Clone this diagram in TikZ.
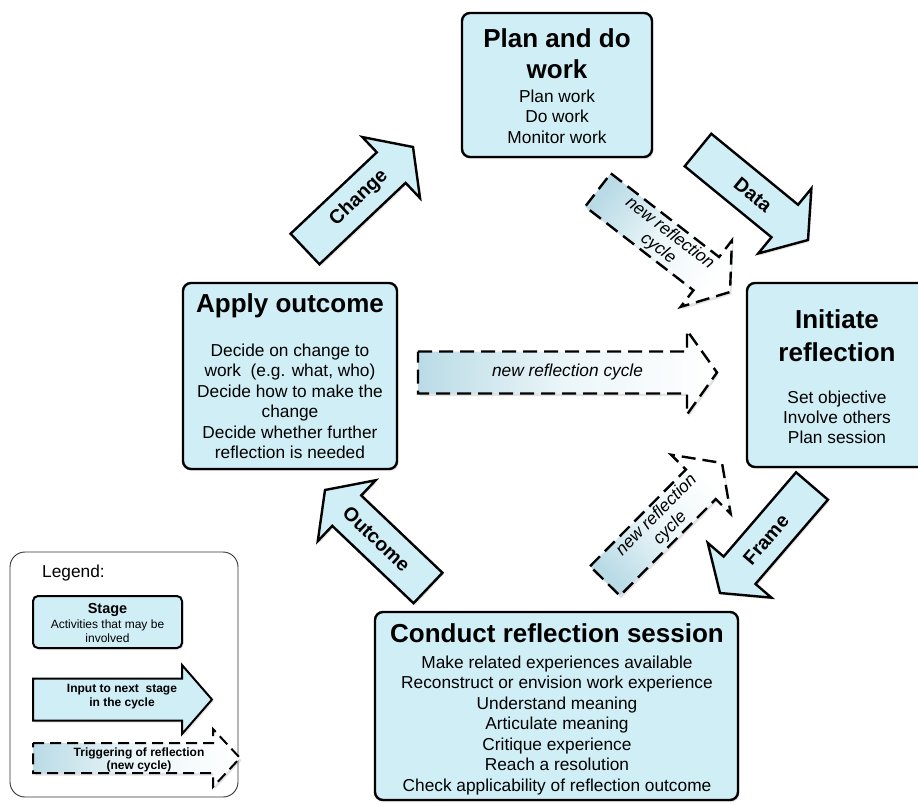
\documentclass[tikz,border=0pt]{standalone}
\usepackage{fontspec}
\setmainfont{Liberation Sans}
\usetikzlibrary{calc,shadows}
\definecolor{boxfill}{RGB}{208,238,246}
\definecolor{gradstart}{RGB}{186,219,230}
\definecolor{gradmid}{RGB}{236,246,249}
\newcommand\blockarrow[6]{%
  \coordinate (ah) at ($(#3)!#6!(#2)$);
  \path[#1] ($(#2)!#4!90:(#3)$) -- ($(ah)!#4!90:(#3)$) -- ($(ah)!#5!90:(#3)$) -- (#3)
     -- ($(ah)!#5!-90:(#3)$) -- ($(ah)!#4!-90:(#3)$) -- ($(#2)!#4!-90:(#3)$) -- cycle;}
\tikzset{
  stagebox/.style={draw=black, line width=2.4pt, fill=boxfill, rounded corners=8pt, inner sep=0pt,
    drop shadow={opacity=0.2, shadow xshift=1.5pt, shadow yshift=-2pt}},
  flowarrow/.style={draw=black, line width=2.4pt, fill=boxfill,
    drop shadow={opacity=0.2, shadow xshift=1.5pt, shadow yshift=-2pt}},
  trigarrow/.style={draw=black, line width=2.4pt, dash pattern=on 14pt off 7pt,
    left color=gradstart, right color=white, middle color=gradmid, shading angle=#1,
    drop shadow={opacity=0.22, shadow xshift=1.5pt, shadow yshift=-2.5pt}},
  titletext/.style={font=\fontsize{26}{30}\selectfont\bfseries, inner sep=0pt, anchor=base},
  bodytext/.style={font=\fontsize{17.3}{20.5}\selectfont, inner sep=0pt, anchor=base},
  arrowlabel/.style={font=\fontsize{19.5}{22}\selectfont\bfseries, inner sep=0pt},
  triglabel/.style={font=\fontsize{17.3}{19}\selectfont\itshape, inner sep=0pt, align=center},
  legtext/.style={font=\fontsize{12}{14}\selectfont, inner sep=0pt, anchor=base},
}
\begin{document}
\begin{tikzpicture}[x=1pt,y=-1pt]
\useasboundingbox (0,0) rectangle (918,803);
\fill[white] (0,0) rectangle (918,803);
\clip (0,0) rectangle (918,803);

% ---------- stage boxes ----------
\node[stagebox, minimum width=190pt, minimum height=144pt] (plan) at (557,85) {};
\node[titletext] (plan-t1) at (557,47) {Plan and do};
\node[titletext] (plan-t2) at (557,78) {work};
\foreach \t [count=\i from 0] in {Plan work, Do work, Monitor work}
  \node[bodytext] (plan-b\i) at (557,{102+20.5*\i}) {\t};

\node[stagebox, minimum width=180pt, minimum height=184pt] (init) at (837,375) {};
\node[titletext] (init-t1) at (837,328) {Initiate};
\node[titletext] (init-t2) at (837,361) {reflection};
\foreach \t [count=\i from 0] in {Set objective, Involve others, Plan session}
  \node[bodytext] (init-b\i) at (837,{403+20*\i}) {\t};

\node[stagebox, minimum width=214pt, minimum height=186pt] (apply) at (290,376) {};
\node[titletext] (apply-t) at (290,312) {Apply outcome};
\foreach \t [count=\i from 0] in {Decide on change to, {work\ \ (e.g. what, who)}, Decide how to make the, change, Decide whether further, reflection is needed}
  \node[bodytext] (apply-b\i) at (290,{356+20.5*\i}) {\t};

\node[stagebox, minimum width=363pt, minimum height=188pt] (conduct) at (556.5,706) {};
\node[titletext] (conduct-t) at (557,642) {Conduct reflection session};
\foreach \t [count=\i from 0] in {Make related experiences available, Reconstruct or envision work experience, Understand meaning, Articulate meaning, Critique experience, Reach a resolution, Check applicability of reflection outcome}
  \node[bodytext] (conduct-b\i) at (557,{668+20.5*\i}) {\t};

% ---------- flow arrows ----------
\coordinate (chB) at (305,249);  \coordinate (chT) at (413,147);
\coordinate (daB) at (698,150);  \coordinate (daT) at (808,240);
\coordinate (frB) at (812,486);  \coordinate (frT) at (720,593);
\coordinate (ouB) at (428,588);  \coordinate (ouT) at (325,490);
\blockarrow{flowarrow}{chB}{chT}{21pt}{42pt}{30pt}
\blockarrow{flowarrow}{daB}{daT}{21pt}{42pt}{30pt}
\blockarrow{flowarrow}{frB}{frT}{21pt}{42pt}{30pt}
\blockarrow{flowarrow}{ouB}{ouT}{21pt}{42pt}{30pt}
\path (chB) -- (chT) node[arrowlabel, midway, sloped] (lch) {Change};
\path (daB) -- (daT) node[arrowlabel, midway, sloped] (lda) {Data};
\path (frB) -- (frT) node[arrowlabel, midway, sloped] (lfr) {Frame};
\path (ouB) -- (ouT) node[arrowlabel, midway, sloped] (lou) {Outcome};

% ---------- triggering arrows ----------
\coordinate (t1B) at (418,372.5); \coordinate (t1T) at (717,372.5);
\coordinate (t2B) at (598,190);   \coordinate (t2T) at (730,292);
\coordinate (t3B) at (605,581);   \coordinate (t3T) at (722,463);
\blockarrow{trigarrow=90}{t1B}{t1T}{21pt}{42pt}{30pt}
\blockarrow{trigarrow=52.3}{t2B}{t2T}{21pt}{42pt}{30pt}
\blockarrow{trigarrow=135}{t3B}{t3T}{21pt}{42pt}{30pt}
\path (t1B) -- (t1T) node[triglabel, midway] (lt1) {new reflection cycle};
\path (t2B) -- (t2T) node[triglabel, midway, sloped] (lt2) {new reflection\\cycle};
\path (t3B) -- (t3T) node[triglabel, midway, sloped] (lt3) {new reflection\\cycle};

% ---------- legend ----------
\node[draw=black!80, line width=0.9pt, rounded corners=15pt, minimum width=228pt, minimum height=245pt, inner sep=0pt] (legend) at (124,674.5) {};
\node[bodytext] (leg-title) at (73.5,577) {Legend:};
\node[stagebox, line width=2pt, rounded corners=5pt, minimum width=149pt, minimum height=52pt] (leg-stage) at (107.5,622) {};
\node[legtext, font=\fontsize{14.5}{16}\selectfont\bfseries] (leg-s1) at (107.5,613) {Stage};
\node[legtext] (leg-s2) at (107.5,628) {Activities that may be};
\node[legtext] (leg-s3) at (107.5,642) {involved};
\coordinate (l1B) at (33,699.5); \coordinate (l1T) at (212,699.5);
\blockarrow{flowarrow, line width=2pt}{l1B}{l1T}{21pt}{34.5pt}{30pt}
\node[legtext, font=\fontsize{12}{14}\selectfont\bfseries] (leg-a1) at (122,692) {Input to next\ \ stage};
\node[legtext, font=\fontsize{12}{14}\selectfont\bfseries] (leg-a2) at (122,706) {in the cycle};
\coordinate (l2B) at (33,758); \coordinate (l2T) at (240,758);
\blockarrow{trigarrow=90, line width=2pt, dash pattern=on 11pt off 6pt}{l2B}{l2T}{15pt}{29pt}{27pt}
\node[legtext, font=\fontsize{12}{14}\selectfont\bfseries] (leg-d1) at (139,756) {Triggering of reflection};
\node[legtext, font=\fontsize{12}{14}\selectfont\bfseries] (leg-d2) at (139,769) {(new cycle)};
\end{tikzpicture}
\end{document}
